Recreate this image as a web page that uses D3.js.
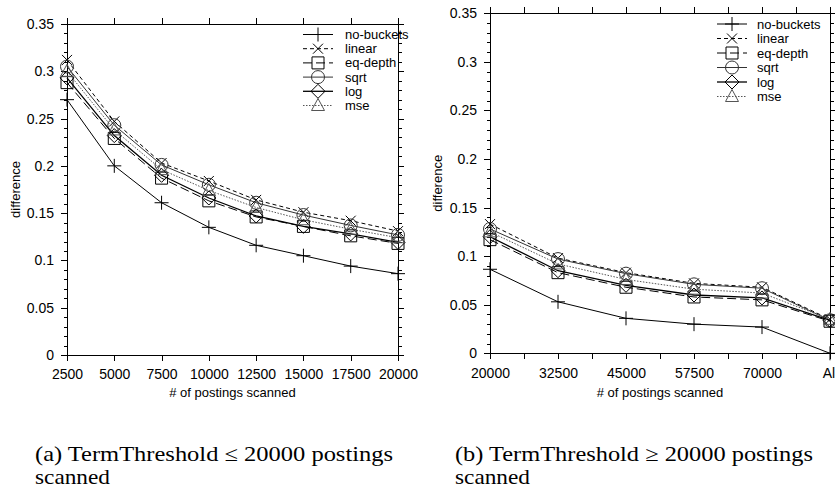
<!DOCTYPE html>
<html lang="en">
  <head>
    <meta charset="utf-8" />
    <title>difference vs postings scanned</title>
    <script src="https://d3js.org/d3.v7.min.js"></script>
    <style>
      body {
        margin: 0;
        background: #fff;
      }
      svg {
        display: block;
      }
      .tick line, .frame {
        shape-rendering: crispEdges;
      }
      .axis text, .legend text, .title {
        font-family: "Liberation Sans", Arial, sans-serif;
        fill: #000;
      }
      .caption {
        font-family: "Liberation Serif", "DejaVu Serif", serif;
        font-size: 21px;
        fill: #000;
      }
    </style>
  </head>
  <body>
    <svg width="835" height="489"></svg>
    <script>

    // ---- data ----
    var seriesNames = ["no-buckets", "linear", "eq-depth", "sqrt", "log", "mse"];
    var yTicks = [0, 0.05, 0.1, 0.15, 0.2, 0.25, 0.3, 0.35];

    // (a) TermThreshold <= 20000
    var xA = [2500, 5000, 7500, 10000, 12500, 15000, 17500, 20000];
    var noBucketsA = [0.270, 0.200, 0.161, 0.135, 0.116, 0.105, 0.094, 0.086];
    var linearA    = [0.312, 0.247, 0.203, 0.184, 0.164, 0.151, 0.142, 0.131];
    var eqDepthA   = [0.288, 0.229, 0.187, 0.163, 0.146, 0.136, 0.126, 0.118];
    var sqrtA      = [0.305, 0.243, 0.201, 0.180, 0.161, 0.148, 0.137, 0.127];
    var logA       = [0.293, 0.232, 0.190, 0.166, 0.147, 0.136, 0.128, 0.119];
    var mseA       = [0.300, 0.238, 0.196, 0.174, 0.156, 0.143, 0.133, 0.124];

    // (b) TermThreshold >= 20000 ("All" sits one step after 70000)
    var xB = [20000, 32500, 45000, 57500, 70000, 82500];
    var xLabelsB = ["20000", "32500", "45000", "57500", "70000", "All"];
    var noBucketsB = [0.0865, 0.053, 0.036, 0.030, 0.027, 0.000];
    var linearB    = [0.133, 0.098, 0.083, 0.072, 0.068, 0.035];
    var eqDepthB   = [0.117, 0.083, 0.068, 0.058, 0.055, 0.033];
    var sqrtB      = [0.128, 0.097, 0.082, 0.071, 0.067, 0.034];
    var logB       = [0.120, 0.085, 0.070, 0.060, 0.057, 0.034];
    var mseB       = [0.125, 0.092, 0.076, 0.066, 0.062, 0.035];

    // ---- line / point styles (gnuplot-like) ----
    var styles = {
      "no-buckets": {dash: null,    width: 1,   stroke: "#000", mark: "plus"},
      "linear":     {dash: "4,3",   width: 1,   stroke: "#000", mark: "cross"},
      "eq-depth":   {dash: "9,4",   width: 1,   stroke: "#000", mark: "square"},
      "sqrt":       {dash: null,    width: 1,   stroke: "#333", mark: "circle"},
      "log":        {dash: null,    width: 1.3, stroke: "#000", mark: "diamond"},
      "mse":        {dash: "1.5,1.5", width: 1, stroke: "#555", mark: "triangle"}
    };

    var marks = {
      plus: "M-7,0H7M0,-7V7",
      cross: "M-5,-5L5,5M-5,5L5,-5",
      square: "M-6,-6H6V6H-6Z",
      circle: "M6.5,0A6.5,6.5 0 1,1 -6.5,0A6.5,6.5 0 1,1 6.5,0Z",
      diamond: "M0,-7L7,0L0,7L-7,0Z",
      triangle: "M0,-7L6.5,5L-6.5,5Z"
    };

    var svg = d3.select("svg");

    function drawPanel(p) {
      var x = d3.scaleLinear().domain(p.xDomain).range([p.left, p.right]),
          y = d3.scaleLinear().domain([0, 0.35]).range([p.bottom, p.top]);

      var g = svg.append("g");

      var minorY = d3.range(1, 35).map(function(i) { return i / 100; })
          .filter(function(v) { return Math.round(v * 100) % 5 !== 0; });

      // axes: ticks point outwards on all four sides
      g.append("g").attr("class", "axis")
          .attr("transform", "translate(0," + p.bottom + ")")
          .call(d3.axisBottom(x).tickValues(p.xTicks).tickSize(6).tickSizeOuter(0)
            .tickPadding(p.xPad).tickFormat(function(d, i) { return p.xLabels[i]; }));
      g.append("g").attr("class", "axis")
          .attr("transform", "translate(0," + p.top + ")")
          .call(d3.axisTop(x).tickValues(p.xTicks).tickSize(6).tickSizeOuter(0).tickFormat(""));
      if (p.xMinor) {
        g.append("g").attr("class", "axis")
            .attr("transform", "translate(0," + p.bottom + ")")
            .call(d3.axisBottom(x).tickValues(p.xMinor).tickSize(6).tickSizeOuter(0).tickFormat(""));
        g.append("g").attr("class", "axis")
            .attr("transform", "translate(0," + p.top + ")")
            .call(d3.axisTop(x).tickValues(p.xMinor).tickSize(6).tickSizeOuter(0).tickFormat(""));
      }
      g.append("g").attr("class", "axis")
          .attr("transform", "translate(" + p.left + ",0)")
          .call(d3.axisLeft(y).tickValues(yTicks).tickSize(6).tickSizeOuter(0)
            .tickPadding(7).tickFormat(function(d) { return String(d); }));
      g.append("g").attr("class", "axis")
          .attr("transform", "translate(" + p.left + ",0)")
          .call(d3.axisLeft(y).tickValues(minorY).tickSize(3.5).tickSizeOuter(0).tickFormat(""));
      g.append("g").attr("class", "axis")
          .attr("transform", "translate(" + p.right + ",0)")
          .call(d3.axisRight(y).tickValues(yTicks).tickSize(6).tickSizeOuter(0).tickFormat(""));
      g.append("g").attr("class", "axis")
          .attr("transform", "translate(" + p.right + ",0)")
          .call(d3.axisRight(y).tickValues(minorY).tickSize(3.5).tickSizeOuter(0).tickFormat(""));

      g.selectAll(".axis .domain").remove();
      g.selectAll(".axis text").style("font-size", "14px");
      g.selectAll(".axis line").attr("stroke", "#000");

      g.append("rect").attr("class", "frame")
          .attr("x", p.left).attr("y", p.top)
          .attr("width", p.right - p.left).attr("height", p.bottom - p.top)
          .attr("fill", "none").attr("stroke", "#000");

      // axis titles
      g.append("text").attr("class", "title")
          .attr("x", (p.left + p.right) / 2).attr("y", p.xTitleY)
          .attr("text-anchor", "middle").style("font-size", "13px")
          .text("# of postings scanned");
      g.append("text").attr("class", "title")
          .attr("transform", "translate(" + p.yTitleX + "," + (p.top + p.bottom) / 2 + ") rotate(-90)")
          .attr("text-anchor", "middle").style("font-size", "13px")
          .text("difference");

      // series
      var line = d3.line()
          .x(function(d) { return x(d[0]); })
          .y(function(d) { return y(d[1]); });

      p.series.forEach(function(vals, i) {
        var st = styles[seriesNames[i]];
        var pts = p.xTicks.map(function(xv, j) { return [xv, vals[j]]; });
        var sg = g.append("g").attr("class", "series");
        sg.append("path")
            .attr("d", line(pts))
            .attr("fill", "none")
            .attr("stroke", st.stroke)
            .attr("stroke-width", st.width)
            .attr("stroke-dasharray", st.dash);
        sg.selectAll(".pt").data(pts).enter().append("path")
            .attr("class", "pt")
            .attr("transform", function(d) { return "translate(" + x(d[0]) + "," + y(d[1]) + ")"; })
            .attr("d", marks[st.mark])
            .attr("fill", "none")
            .attr("stroke", st.stroke)
            .attr("stroke-width", 1);
      });

      // legend
      var lg = g.append("g").attr("class", "legend");
      seriesNames.forEach(function(name, i) {
        var st = styles[name],
            ly = p.legend.top + i * p.legend.step;
        lg.append("line")
            .attr("x1", p.legend.x1).attr("x2", p.legend.x2)
            .attr("y1", ly).attr("y2", ly)
            .attr("stroke", st.stroke)
            .attr("stroke-width", st.width)
            .attr("stroke-dasharray", st.dash);
        lg.append("path")
            .attr("transform", "translate(" + (p.legend.x1 + p.legend.x2) / 2 + "," + ly + ")")
            .attr("d", marks[st.mark])
            .attr("fill", "none")
            .attr("stroke", st.stroke);
        lg.append("text")
            .attr("x", p.legend.tx).attr("y", ly).attr("dy", "0.35em")
            .style("font-size", "13px")
            .text(name);
      });

      // caption
      g.append("text").attr("class", "caption")
          .attr("x", p.capX).attr("y", 461)
          .attr("textLength", 358).attr("lengthAdjust", "spacingAndGlyphs")
          .text(p.caption);
      g.append("text").attr("class", "caption")
          .attr("x", p.capX).attr("y", 483.5)
          .attr("textLength", 75).attr("lengthAdjust", "spacingAndGlyphs")
          .text("scanned");
    }

    drawPanel({
      left: 67, right: 398, top: 24, bottom: 355,
      xDomain: [2500, 20000], xTicks: xA,
      xLabels: xA.map(String), xMinor: null, xPad: 8,
      xTitleY: 396.5, yTitleX: 19.5,
      series: [noBucketsA, linearA, eqDepthA, sqrtA, logA, mseA],
      legend: {top: 34.5, step: 14.2, x1: 303, x2: 333, tx: 345},
      capX: 35,
      caption: "(a) TermThreshold \u2264 20000 postings"
    });

    drawPanel({
      left: 490, right: 830, top: 13.3, bottom: 353.3,
      xDomain: [20000, 82500], xTicks: xB,
      xLabels: xLabelsB,
      xMinor: xB.slice(1).map(function(v) { return v - 6250; }), xPad: 9,
      xTitleY: 396.5, yTitleX: 442,
      series: [noBucketsB, linearB, eqDepthB, sqrtB, logB, mseB],
      legend: {top: 24, step: 14.5, x1: 717, x2: 747, tx: 757},
      capX: 455,
      caption: "(b) TermThreshold \u2265 20000 postings"
    });

    </script>
  </body>
</html>
